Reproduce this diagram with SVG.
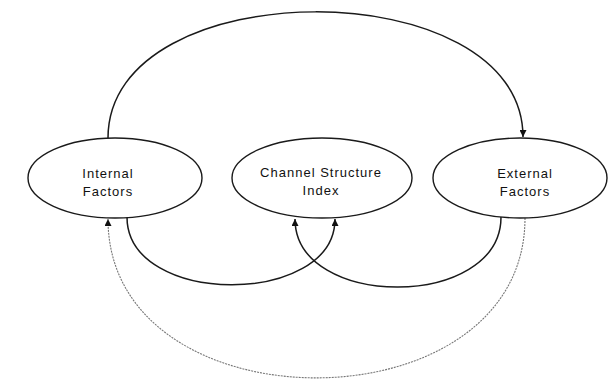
<svg xmlns="http://www.w3.org/2000/svg" width="608" height="381" viewBox="0 0 608 381">
<style>
.node ellipse{fill:#fff;stroke:#1a1a1a;stroke-width:1.4}
.node text{font-family:"Liberation Sans",Arial,sans-serif;font-size:13px;letter-spacing:1px;fill:#111;text-anchor:middle}
.solid{fill:none;stroke:#1a1a1a;stroke-width:1.5}
.dotted{fill:none;stroke:#777;stroke-width:1.1;stroke-dasharray:2 1}
</style>
<defs>
<marker id="arr" viewBox="0 0 10 10" refX="10" refY="5" markerWidth="7" markerHeight="7" markerUnits="userSpaceOnUse" orient="auto">
<path d="M0,0 L10,5 L0,10 z" fill="#111"/>
</marker>
</defs>
<rect width="608" height="381" fill="#fff"/>
<g id="connectors">
<path class="solid" d="M108,138 C108,-30 523,-30 523,137" marker-end="url(#arr)"/>
<path class="solid" d="M127,217 C127,307 335,307 335,219" marker-end="url(#arr)"/>
<path class="solid" d="M501,217 C501,310 295,310 295,219" marker-end="url(#arr)"/>
<path class="dotted" d="M525,218 C525,431 108,431 108,219" marker-end="url(#arr)"/>
</g>
<g id="internal" class="node">
<ellipse cx="115" cy="178" rx="87" ry="40"/>
<text x="108" y="178">Internal</text>
<text x="108" y="196">Factors</text>
</g>
<g id="channel" class="node">
<ellipse cx="322" cy="178" rx="90" ry="40"/>
<text x="321" y="177">Channel Structure</text>
<text x="321" y="195">Index</text>
</g>
<g id="external" class="node">
<ellipse cx="520" cy="178" rx="87" ry="40"/>
<text x="525" y="178">External</text>
<text x="525" y="196">Factors</text>
</g>
</svg>
